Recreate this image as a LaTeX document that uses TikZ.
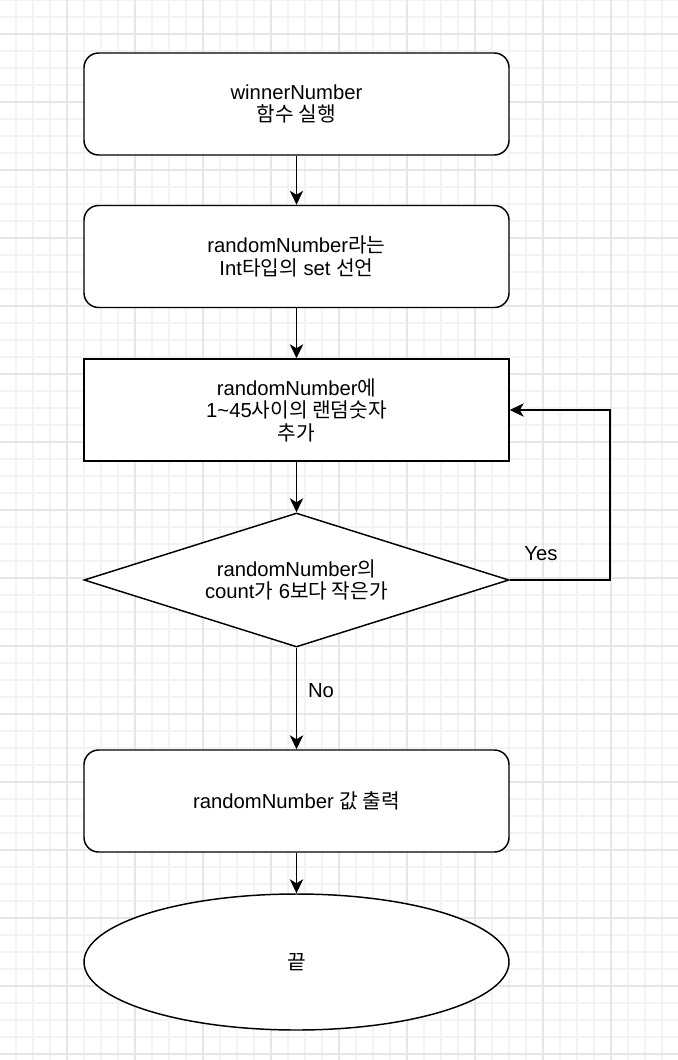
\documentclass[tikz,border=0pt]{standalone}
\usepackage{fontspec}
\setmainfont{Liberation Sans}
\newfontfamily\ko{Noto Sans CJK KR}
\usetikzlibrary{shapes.geometric,arrows.meta}
\definecolor{gridminor}{HTML}{F3F3F3}
\definecolor{gridmajor}{HTML}{E6E6E6}
\tikzset{
  base/.style={draw=black, line width=1.1pt, fill=white, align=center, inner sep=0pt,
    minimum width=318.75pt, minimum height=76.5pt, font=\fontsize{15.2}{16.9}\selectfont},
  rbox/.style={base, rectangle, rounded corners=11pt},
  sbox/.style={base, rectangle},
  dbox/.style={base, diamond, minimum width=318.75pt, minimum height=100.5pt, aspect=3.17},
  ebox/.style={base, ellipse, minimum width=318.75pt, minimum height=102pt},
  arr/.style={draw=black, line width=1.1pt, -{Stealth[length=10.5pt,width=10pt,inset=3pt]}},
  lbl/.style={font=\fontsize{15.2}{16.9}\selectfont, inner sep=0pt},
}
\begin{document}
\begin{tikzpicture}[x=0.75pt,y=-0.75pt]
\useasboundingbox (0,0) rectangle (678,1060);
\fill[white] (0,0) rectangle (678,1060);
\begin{scope}
\clip (0,0) rectangle (678,1060);
\foreach \i in {0,...,40} {
  \draw[gridminor, line width=0.8pt] ({-1+17*\i},0) -- ({-1+17*\i},1060);
}
\foreach \i in {0,...,63} {
  \draw[gridminor, line width=0.8pt] (0,{17*\i}) -- (678,{17*\i});
}
\foreach \i in {0,...,10} {
  \draw[gridmajor, line width=1.1pt] ({-1+68*\i},0) -- ({-1+68*\i},1060);
}
\foreach \i in {0,...,15} {
  \draw[gridmajor, line width=1.1pt] (0,{34+68*\i}) -- (678,{34+68*\i});
}
\end{scope}

\node[rbox] (b1) at (296.5,104) {winnerNumber\\{\ko 함수 실행}};
\node[rbox] (b2) at (296.5,256.5) {randomNumber{\ko 라는}\\Int{\ko 타입의} set {\ko 선언}};
\node[sbox] (b3) at (296.5,410) {randomNumber{\ko 에}\\1\textasciitilde 45{\ko 사이의 랜덤숫자}\\{\ko 추가}};
\node[dbox] (d) at (296.5,580) {randomNumber{\ko 의}\\count{\ko 가} 6{\ko 보다 작은가}};
\node[rbox] (b4) at (296.5,801) {randomNumber {\ko 값 출력}};
\node[ebox] (e) at (296.5,962) {{\ko 끝}};

\coordinate (lp) at (610,580);

\draw[arr] (b1) -- (b2);
\draw[arr] (b2) -- (b3);
\draw[arr] (b3) -- (d);
\draw[arr] (d) -- (b4);
\draw[arr] (b4) -- (e);
\draw[arr] (d.east) -- (lp) |- (b3.east);

\node[lbl] (yes) at (541,554) {Yes};
\node[lbl] (no) at (321,691) {No};
\end{tikzpicture}
\end{document}
